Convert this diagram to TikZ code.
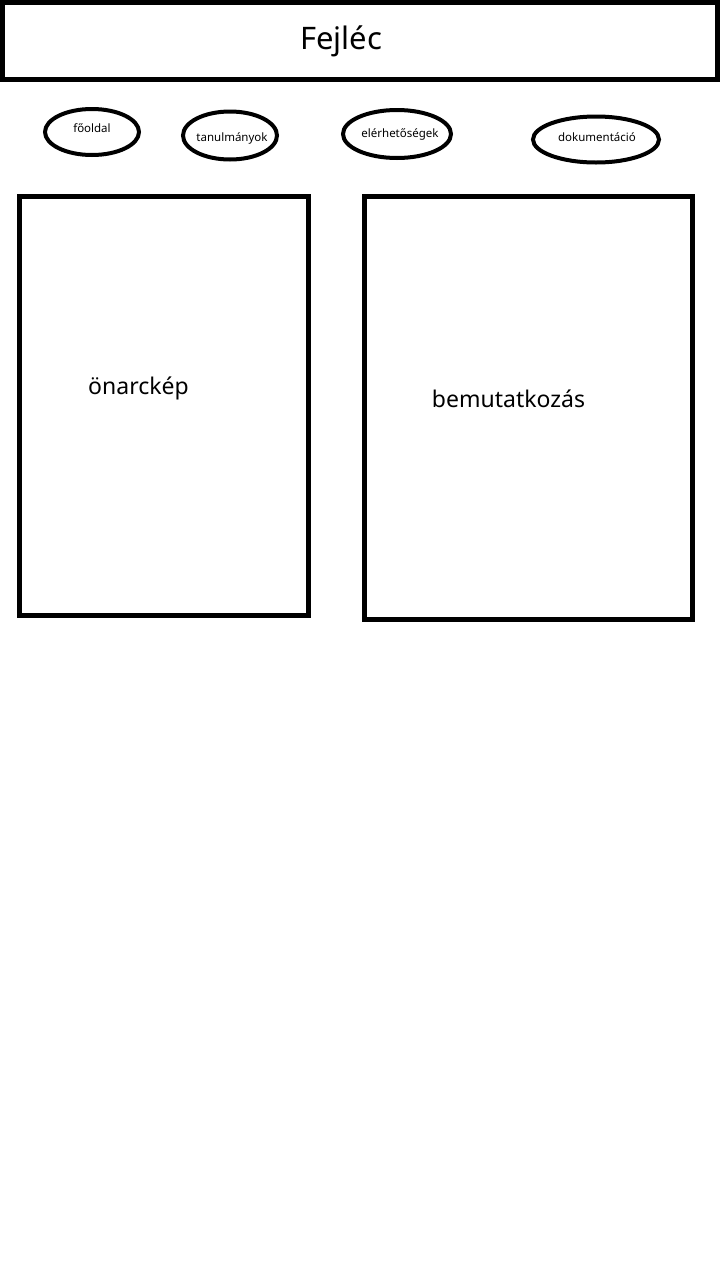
\documentclass[tikz,border=0pt]{standalone}
\usepackage{fontspec}
\setmainfont{Noto Sans}
\usetikzlibrary{shapes.geometric}
\tikzset{
  frame/.style={draw=black, line width=5pt, rectangle, inner sep=0pt},
  menu/.style={draw=black, line width=4pt, ellipse, inner sep=0pt},
  lbl/.style={anchor=base, inner sep=0pt, text=black},
  big/.style={lbl, font=\fontsize{23}{28}\selectfont},
  small/.style={lbl, font=\fontsize{11.5}{14}\selectfont},
}
\begin{document}
\begin{tikzpicture}[x=1pt,y=-1pt]
\useasboundingbox (0,0) rectangle (720,1280);
\fill[white] (0,0) rectangle (720,1280);
% header
\node[frame, minimum width=715pt, minimum height=77pt] (header) at (360,40.5) {};
\node[lbl, font=\fontsize{31}{36}\selectfont] (fejlec) at (341,49) {Fejléc};
% menu ellipses
\node[menu, minimum width=94pt, minimum height=46pt] (m1) at (92,132) {};
\node[menu, minimum width=94pt, minimum height=48pt] (m2) at (230,135.5) {};
\node[menu, minimum width=108pt, minimum height=48pt] (m3) at (397,134) {};
\node[menu, minimum width=126pt, minimum height=46pt] (m4) at (596,139.5) {};
\node[small] (t1) at (92,132) {főoldal};
\node[small] (t2) at (232,141) {tanulmányok};
\node[small] (t3) at (400,137) {elérhetőségek};
\node[small] (t4) at (597,141) {dokumentáció};
% content boxes
\node[frame, minimum width=289pt, minimum height=418.5pt] (left) at (164,405.75) {};
\node[frame, minimum width=328pt, minimum height=423pt] (right) at (528.5,408) {};
\node[big] (onarckep) at (138.5,394) {önarckép};
\node[big] (bemut) at (508.5,407) {bemutatkozás};
\end{tikzpicture}
\end{document}
